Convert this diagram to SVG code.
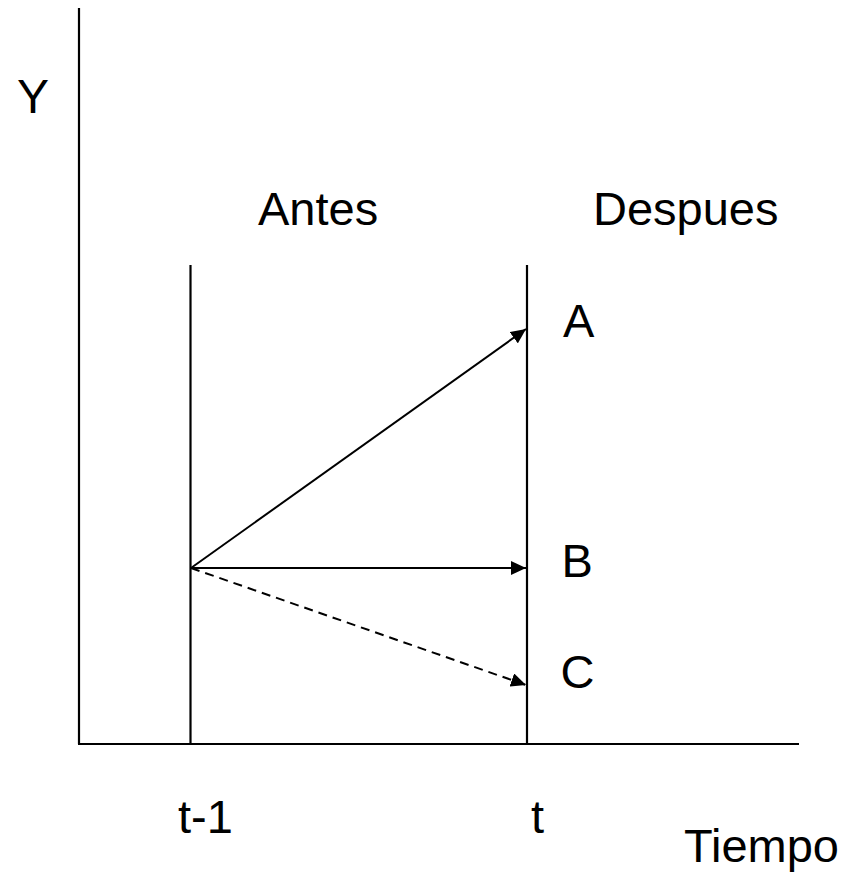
<svg xmlns="http://www.w3.org/2000/svg" width="848" height="874" viewBox="0 0 848 874">
<style>
.ax{stroke:#000;stroke-width:2.2;fill:none}
.cn{stroke:#000;stroke-width:2;fill:none}
.lb{font-family:"Liberation Sans",Arial,sans-serif;font-size:47px;fill:#000}
</style>
<defs>
<marker id="ah" markerUnits="userSpaceOnUse" markerWidth="16" markerHeight="14" refX="15" refY="7" orient="auto">
<path d="M0,0 L15,7 L0,14 Z" fill="#000"/>
</marker>
</defs>
<rect width="848" height="874" fill="#fff"/>
<g id="axes">
<line class="ax" x1="79" y1="8" x2="79" y2="744"/>
<line class="ax" x1="78" y1="744" x2="799" y2="744"/>
<line class="ax" x1="190.5" y1="265" x2="190.5" y2="744"/>
<line class="ax" x1="527" y1="265" x2="527" y2="744"/>
</g>
<g id="connectors">
<line class="cn" x1="191" y1="568" x2="526" y2="329" marker-end="url(#ah)"/>
<line class="cn" x1="191" y1="568" x2="526" y2="568" marker-end="url(#ah)"/>
<line class="cn" x1="191" y1="568" x2="526" y2="685" stroke-dasharray="9,6" marker-end="url(#ah)"/>
</g>
<g id="labels">
<text class="lb" x="17" y="113" style="font-size:48px">Y</text>
<text class="lb" x="258" y="225">Antes</text>
<text class="lb" x="593" y="225">Despues</text>
<text class="lb" x="563" y="337">A</text>
<text class="lb" x="561.5" y="577">B</text>
<text class="lb" x="560.5" y="688">C</text>
<text class="lb" x="178" y="833">t-1</text>
<text class="lb" x="531" y="833">t</text>
<text class="lb" x="684" y="862">Tiempo</text>
</g>
</svg>
